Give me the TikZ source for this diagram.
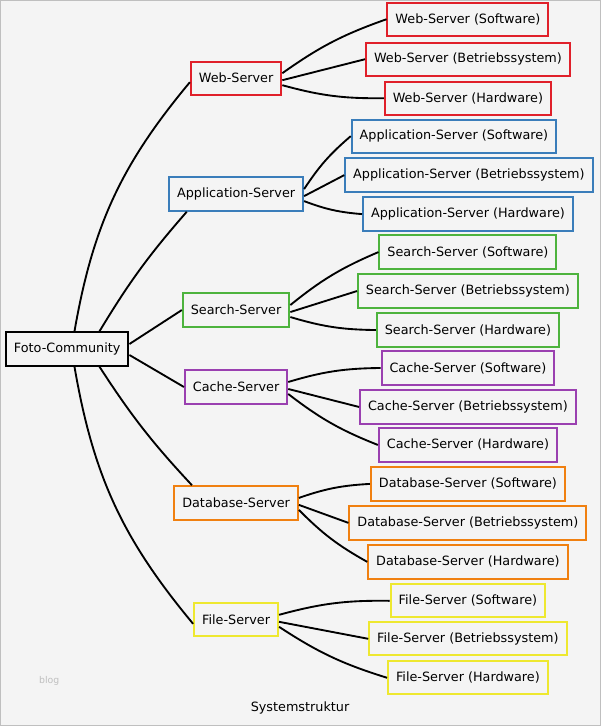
\documentclass[tikz,border=0pt]{standalone}
\usepackage{fontspec}
\setmainfont{DejaVu Sans}
\definecolor{bgc}{HTML}{F4F4F4}
\definecolor{cweb}{HTML}{E0202A}
\definecolor{capp}{HTML}{3A7DBA}
\definecolor{csearch}{HTML}{4DB33D}
\definecolor{ccache}{HTML}{9A40B0}
\definecolor{cdb}{HTML}{F08010}
\definecolor{cfile}{HTML}{EEE830}
\begin{document}
\begin{tikzpicture}[x=0.75pt,y=-0.75pt,font=\fontsize{9.6}{11}\selectfont,
  box/.style={draw,line width=1.5pt,fill=bgc,minimum height=25pt,inner xsep=6pt},
  link/.style={line width=1.4pt}]
\draw[fill=bgc,draw=black!25] (0,0) rectangle (600,726);

\node[box,draw=black] (root) at (67,349){Foto-Community};

\node[box,draw=cweb] (web) at (236,78){Web-Server};
\node[box,draw=cweb] (webs) at (468,19){Web-Server (Software)};
\node[box,draw=cweb] (webb) at (468,59){Web-Server (Betriebssystem)};
\node[box,draw=cweb] (webh) at (468,98){Web-Server (Hardware)};

\node[box,draw=capp] (app) at (236,194){Application-Server};
\node[box,draw=capp] (apps) at (454,136){Application-Server (Software)};
\node[box,draw=capp] (appb) at (469,175){Application-Server (Betriebssystem)};
\node[box,draw=capp] (apph) at (468,214){Application-Server (Hardware)};

\node[box,draw=csearch] (search) at (236,310){Search-Server};
\node[box,draw=csearch] (searchs) at (468,252){Search-Server (Software)};
\node[box,draw=csearch] (searchb) at (468,291){Search-Server (Betriebssystem)};
\node[box,draw=csearch] (searchh) at (468,330){Search-Server (Hardware)};

\node[box,draw=ccache] (cache) at (236,387){Cache-Server};
\node[box,draw=ccache] (caches) at (468,368){Cache-Server (Software)};
\node[box,draw=ccache] (cacheb) at (468,407){Cache-Server (Betriebssystem)};
\node[box,draw=ccache] (cacheh) at (468,445){Cache-Server (Hardware)};

\node[box,draw=cdb] (db) at (236,503){Database-Server};
\node[box,draw=cdb] (dbs) at (468,484){Database-Server (Software)};
\node[box,draw=cdb] (dbb) at (468,523){Database-Server (Betriebssystem)};
\node[box,draw=cdb] (dbh) at (468,562){Database-Server (Hardware)};

\node[box,draw=cfile] (file) at (236,620){File-Server};
\node[box,draw=cfile] (files) at (468,601){File-Server (Software)};
\node[box,draw=cfile] (fileb) at (468,639){File-Server (Betriebssystem)};
\node[box,draw=cfile] (fileh) at (468,678){File-Server (Hardware)};

% root to servers
\draw[link] (root.north east) ++(-55,0) to[bend left=15] ([yshift=-3]web.west);
\draw[link] (root.north east) ++(-30,0) to[bend left=5] ([xshift=14pt]app.south west);
\draw[link] (root.east) ++(0,-5) -- (search.west);
\draw[link] (root.east) ++(0,6) -- (cache.west);
\draw[link] (root.south east) ++(-30,0) to[bend right=5] ([xshift=14pt]db.north west);
\draw[link] (root.south east) ++(-55,0) to[bend right=15] ([yshift=-3]file.west);

\foreach \p in {web,app,search,cache,db,file}{
  \draw[link] (\p.east) ++(0,-5) to[bend left=8] (\p s.west);
  \draw[link] (\p.east) ++(0,2) -- (\p b.west);
  \draw[link] (\p.east) ++(0,7) to[bend right=8] (\p h.west);
}

\node[black!25,font=\fontsize{7}{8}\selectfont] (blog) at (49,681){blog};
\node (title) at (300,708){Systemstruktur};
\end{tikzpicture}
\end{document}
